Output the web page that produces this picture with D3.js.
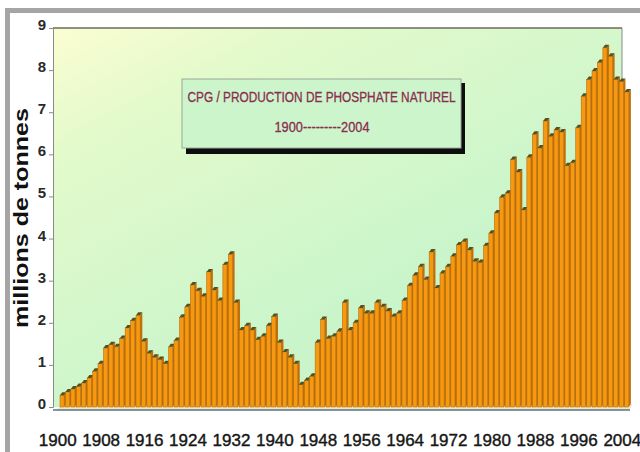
<!DOCTYPE html>
<html lang="fr">
<head>
<meta charset="UTF-8">
<title>CPG / Production de phosphate naturel</title>
<script src="https://cdn.jsdelivr.net/npm/d3@7/dist/d3.min.js"></script>
<style>
  body { margin: 0; background: #fff; }
  svg { display: block; }
</style>
</head>
<body>
<div id="chart"></div>
<script>
// annees 1900 -> 2004
const years = d3.range(1900, 2005);

// production en millions de tonnes
const production = [
  0.35, 0.43, 0.50, 0.56, 0.64, 0.76, 0.92, 1.10, 1.47, 1.55,
  1.50, 1.70, 1.95, 2.12, 2.25, 1.63, 1.35, 1.25, 1.20, 1.10,
  1.50, 1.65, 2.20, 2.45, 2.97, 2.83, 2.70, 3.28, 2.85, 2.60,
  3.45, 3.70, 2.55, 1.90, 2.00, 1.90, 1.67, 1.75, 2.00, 2.22,
  1.60, 1.38, 1.25, 1.10, 0.60, 0.70, 0.80, 1.60, 2.15, 1.70,
  1.75, 1.87, 2.55, 1.90, 2.07, 2.42, 2.30, 2.30, 2.55, 2.45,
  2.35, 2.22, 2.30, 2.60, 2.95, 3.20, 3.40, 3.10, 3.75, 2.90,
  3.25, 3.40, 3.65, 3.92, 4.00, 3.80, 3.53, 3.50, 3.90, 4.20,
  4.68, 5.05, 5.15, 5.95, 5.65, 4.75, 6.00, 6.55, 6.22, 6.86,
  6.50, 6.65, 6.60, 5.80, 5.87, 6.70, 7.45, 7.85, 8.05, 8.25,
  8.60, 8.40, 7.85, 7.80, 7.55
];

const xLabels = years.filter(y => (y - 1900) % 8 === 0);
const yTicks = d3.range(0, 10);

const titleLines = ["CPG / PRODUCTION DE PHOSPHATE NATUREL", "1900---------2004"];

const width = 640, height = 452;

const svg = d3.select("#chart").append("svg")
  .attr("width", width)
  .attr("height", height);

// fond degrade
const defs = svg.append("defs");
const grad = defs.append("linearGradient")
  .attr("id", "bg")
  .attr("x1", "0%").attr("y1", "0%")
  .attr("x2", "55%").attr("y2", "70%");
grad.append("stop").attr("offset", "0%").attr("stop-color", "#fbfdd2");
grad.append("stop").attr("offset", "30%").attr("stop-color", "#e3facb");
grad.append("stop").attr("offset", "100%").attr("stop-color", "#caf5cb");

// cadre gris exterieur
svg.append("rect").attr("x", 5).attr("y", 8).attr("width", 635).attr("height", 5).attr("fill", "#a5a5a5");
svg.append("rect").attr("x", 5).attr("y", 8).attr("width", 5).attr("height", 444).attr("fill", "#a5a5a5");

const plotL = 53, plotR = 622, plotT = 28, plotB = 407;

const x = d3.scaleBand()
  .domain(years)
  .range([60, 630])
  .padding(0);

const y = d3.scaleLinear()
  .domain([0, 9])
  .range([plotB, plotT]);

// zone de trace
svg.append("rect")
  .attr("x", plotL).attr("y", plotT)
  .attr("width", plotR - plotL).attr("height", plotB - plotT)
  .attr("fill", "url(#bg)");
svg.append("line").attr("x1", plotL).attr("x2", plotR).attr("y1", plotT).attr("y2", plotT)
  .attr("stroke", "#6b6b5a").attr("stroke-width", 1.5);
svg.append("line").attr("x1", plotR).attr("x2", plotR).attr("y1", plotT).attr("y2", plotB)
  .attr("stroke", "#8a8a8a").attr("stroke-width", 1);

// sol 3D
const bw = x.bandwidth();
const dx = 2.2, dy = 3;
svg.append("polygon")
  .attr("points", [[plotL + 3, plotB + 3], [x(2004) + bw, plotB + 3], [x(2004) + bw + dx, plotB - dy], [x(1900) + dx, plotB - dy]].join(" "))
  .attr("fill", "#efe8c4");

// barres 3D
const fw = bw - dx * 0.6;
const bars = svg.append("g").selectAll("g")
  .data(years.map((yr, i) => ({ year: yr, v: production[i] })))
  .join("g");

bars.each(function(d) {
  const g = d3.select(this);
  const x0 = x(d.year);
  const top = y(d.v) + dy;
  const base = plotB;
  // face laterale
  g.append("polygon")
    .attr("points", [[x0 + fw, top], [x0 + fw + dx, top - dy], [x0 + fw + dx, base - dy], [x0 + fw, base]].join(" "))
    .attr("fill", "#c06f08");
  // face avant
  g.append("rect")
    .attr("x", x0).attr("y", top)
    .attr("width", fw).attr("height", base - top)
    .attr("fill", "#f7980f")
    .attr("stroke", "#a9630a").attr("stroke-width", 0.5);
  // dessus
  g.append("polygon")
    .attr("points", [[x0, top], [x0 + dx, top - dy], [x0 + fw + dx, top - dy], [x0 + fw, top]].join(" "))
    .attr("fill", "#55521f");
});

// ligne de base
svg.append("line").attr("x1", plotL).attr("x2", x(2004) + bw).attr("y1", plotB + 3).attr("y2", plotB + 3)
  .attr("stroke", "#5a7283").attr("stroke-width", 1.5);

// axe Y
const yAxis = svg.append("g")
  .attr("transform", `translate(${plotL},0)`)
  .call(d3.axisLeft(y).tickValues(yTicks).tickSize(4).tickPadding(3).tickFormat(d3.format("d")));
yAxis.select(".domain").attr("stroke", "#8a8a8a");
yAxis.selectAll(".tick line").attr("stroke", "#8a8a8a");
yAxis.selectAll("text")
  .attr("dy", "0.1em")
  .attr("font-family", "'Liberation Sans', Arial, sans-serif")
  .attr("font-size", 15)
  .attr("font-weight", "bold")
  .attr("fill", "#2a2a2a");

// axe X
const xAxis = svg.append("g")
  .attr("transform", `translate(-5,${plotB + 3})`)
  .call(d3.axisBottom(x).tickValues(xLabels).tickSize(0).tickPadding(24));
xAxis.select(".domain").remove();
xAxis.selectAll("text")
  .attr("font-family", "'Liberation Sans', Arial, sans-serif")
  .attr("font-size", 17)
  .attr("fill", "#161616")
  .attr("stroke", "#161616")
  .attr("stroke-width", 0.4);

// titre de l'axe Y
svg.append("text")
  .attr("transform", "translate(28,218) rotate(-90)")
  .attr("text-anchor", "middle")
  .attr("font-family", "'Liberation Sans', Arial, sans-serif")
  .attr("font-size", 20)
  .attr("font-weight", "bold")
  .attr("textLength", 220)
  .attr("lengthAdjust", "spacingAndGlyphs")
  .attr("fill", "#111")
  .text("millions de tonnes");

// boite de titre
const box = { x: 182, y: 79, w: 279, h: 69 };
svg.append("rect")
  .attr("x", box.x + 4).attr("y", box.y + 4)
  .attr("width", box.w).attr("height", box.h + 2)
  .attr("fill", "#0d0d0d");
svg.append("rect")
  .attr("x", box.x).attr("y", box.y)
  .attr("width", box.w).attr("height", box.h)
  .attr("fill", "#cdf5cc")
  .attr("stroke", "#9aa79a").attr("stroke-width", 1);
svg.append("text")
  .attr("x", box.x + box.w / 2).attr("y", 102)
  .attr("text-anchor", "middle")
  .attr("font-family", "'Liberation Sans Narrow', 'Liberation Sans', Arial, sans-serif")
  .attr("font-size", 14)
  .attr("textLength", 268)
  .attr("lengthAdjust", "spacingAndGlyphs")
  .attr("fill", "#8a2d4e")
  .attr("stroke", "#8a2d4e")
  .attr("stroke-width", 0.3)
  .text(titleLines[0]);
svg.append("text")
  .attr("x", 322).attr("y", 132)
  .attr("text-anchor", "middle")
  .attr("font-family", "'Liberation Sans Narrow', 'Liberation Sans', Arial, sans-serif")
  .attr("font-size", 14)
  .attr("textLength", 95)
  .attr("lengthAdjust", "spacingAndGlyphs")
  .attr("fill", "#8a2d4e")
  .attr("stroke", "#8a2d4e")
  .attr("stroke-width", 0.3)
  .text(titleLines[1]);
</script>
</body>
</html>
